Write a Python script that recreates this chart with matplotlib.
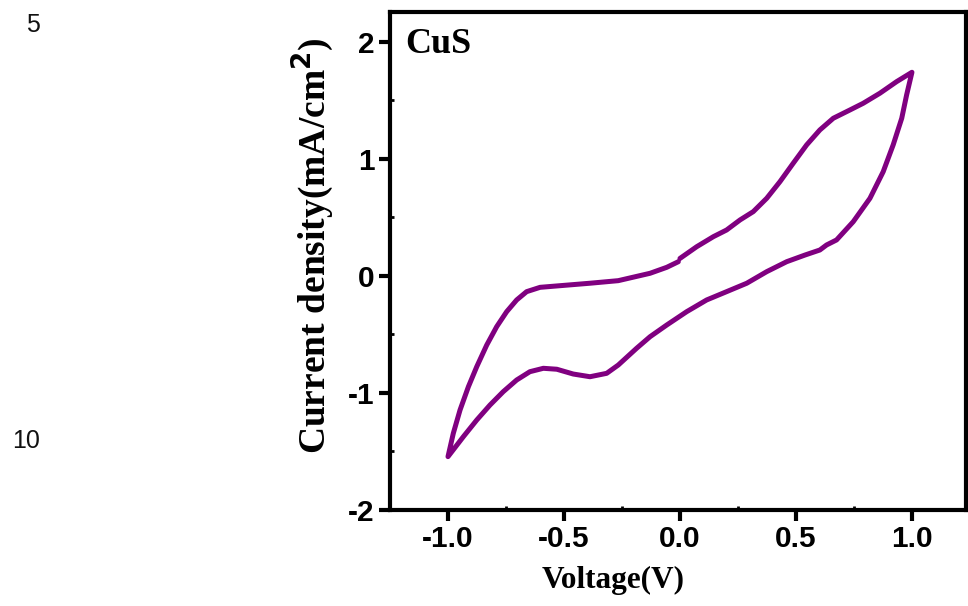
import matplotlib
matplotlib.use("Agg")
import matplotlib.pyplot as plt
from matplotlib.ticker import MultipleLocator

# Cyclic voltammogram of CuS (V vs mA/cm^2), traced in scan order:
# 0 V -> +1 V (anodic), +1 V -> -1 V (cathodic), -1 V -> 0 V
voltage = [0.000, 0.072, 0.144, 0.201, 0.259, 0.316, 0.374, 0.431, 0.488, 0.546, 0.603, 0.661,
           0.733, 0.790, 0.862, 0.934, 1.000,
           0.977, 0.956, 0.919, 0.876, 0.819, 0.747, 0.675, 0.632, 0.603, 0.539, 0.460, 0.374,
           0.288, 0.201, 0.115, 0.029, -0.057, -0.129, -0.187, -0.266, -0.316, -0.388, -0.460,
           -0.531, -0.589, -0.647, -0.704, -0.762, -0.819, -0.876, -0.934, -1.000,
           -0.977, -0.948, -0.912, -0.876, -0.833, -0.790, -0.747, -0.704, -0.661, -0.603,
           -0.517, -0.388, -0.266, -0.129, -0.057, -0.007]
current = [0.150, 0.250, 0.336, 0.393, 0.479, 0.550, 0.664, 0.806, 0.963, 1.120, 1.248, 1.348,
           1.419, 1.476, 1.562, 1.661, 1.741,
           1.547, 1.348, 1.120, 0.891, 0.664, 0.464, 0.308, 0.265, 0.222, 0.179, 0.122, 0.037,
           -0.062, -0.134, -0.205, -0.305, -0.419, -0.519, -0.618, -0.761, -0.832, -0.861, -0.838,
           -0.797, -0.789, -0.818, -0.889, -0.989, -1.103, -1.231, -1.374, -1.544,
           -1.344, -1.145, -0.946, -0.775, -0.590, -0.433, -0.305, -0.205, -0.134, -0.097,
           -0.083, -0.062, -0.040, 0.023, 0.074, 0.122]

x_ticks = [-1.0, -0.5, 0.0, 0.5, 1.0]
x_ticklabels = ["-1.0", "-0.5", "0.0", "0.5", "1.0"]
y_ticks = [-2, -1, 0, 1, 2]
y_ticklabels = ["-2", "-1", "0", "1", "2"]

fig = plt.figure(figsize=(9.68, 6.06), dpi=100)
ax = fig.add_axes([390 / 968, 96 / 606, 576 / 968, 498 / 606])

ax.plot(voltage, current, color="#800080", lw=3.6, solid_joinstyle="round", solid_capstyle="round")

ax.set_xlim(-1.25, 1.233)
ax.set_ylim(-2.0, 2.256)

tick_font = dict(family=["Liberation Sans", "DejaVu Sans"], weight="bold", size=21.5)
ax.set_xticks(x_ticks)
ax.set_xticklabels(x_ticklabels, fontdict=tick_font)
ax.set_yticks(y_ticks)
ax.set_yticklabels(y_ticklabels, fontdict=tick_font)
ax.xaxis.set_minor_locator(MultipleLocator(0.25))
ax.yaxis.set_minor_locator(MultipleLocator(0.5))

ax.tick_params(which="major", direction="out", length=8, width=3, pad=3)
ax.tick_params(which="minor", direction="in", length=3, width=2)
for s in ax.spines.values():
    s.set_linewidth(3)

label_font = dict(family=["Liberation Serif", "DejaVu Serif"], weight="bold")
ax.set_xlabel("Voltage(V)", fontsize=22.5, **label_font)
ax.xaxis.set_label_coords(0.387, -0.112)
ax.set_ylabel("Current density(mA/cm$^\\mathbf{2}$)", fontsize=27, **label_font)
ax.yaxis.set_label_coords(-0.094, 0.53)

ax.text(0.026, 0.968, "CuS", transform=ax.transAxes, ha="left", va="top",
        fontsize=26, **label_font)

fig.text(33 / 968, 1 - 25 / 606, "5", ha="center", va="center",
         fontsize=18, family=["Liberation Sans", "DejaVu Sans"], color="#111111")
fig.text(26 / 968, 1 - 441 / 606, "10", ha="center", va="center",
         fontsize=18, family=["Liberation Sans", "DejaVu Sans"], color="#111111")

fig.savefig("out.png", dpi=100)
